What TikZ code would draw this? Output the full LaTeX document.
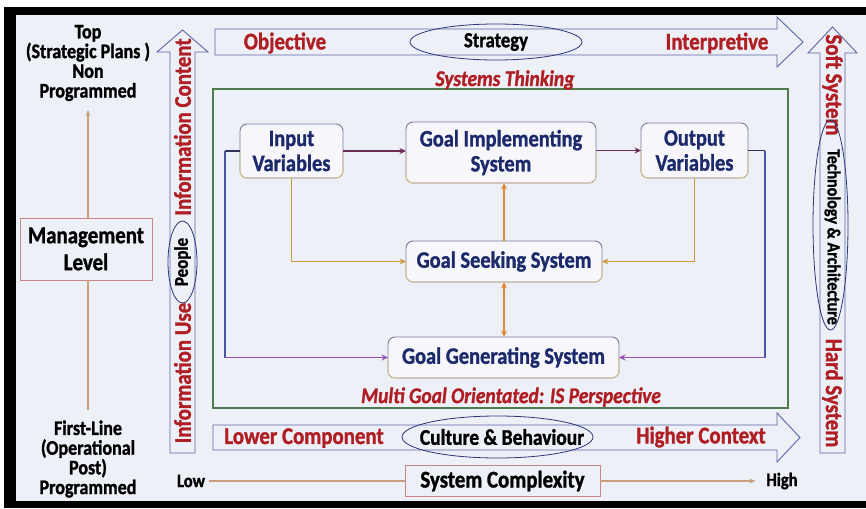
\documentclass[tikz,border=0pt]{standalone}
\usepackage{fontspec}
\setmainfont{Carlito}[FakeStretch=0.87,
  BoldFeatures={FakeBold=1.2}, BoldItalicFeatures={FakeBold=1.2}]
\usetikzlibrary{arrows.meta,shapes.geometric}

\definecolor{panelbg}{HTML}{EDF0F7}
\definecolor{arrowblue}{HTML}{5A66A8}
\definecolor{labelred}{HTML}{B01E24}
\definecolor{boxtext}{HTML}{1C2A6B}
\definecolor{framegreen}{HTML}{4E7A4E}
\definecolor{tanline}{HTML}{C99E7A}
\definecolor{redborder}{HTML}{CC8484}
\definecolor{ovalblue}{HTML}{2E3578}
\definecolor{boxtop}{HTML}{7C7A9E}
\definecolor{boxbottom}{HTML}{DCC68C}
\definecolor{boxfill}{HTML}{F7F7FB}
\definecolor{maroon}{HTML}{6B2C55}
\definecolor{gold}{HTML}{C99A3E}
\definecolor{orangeline}{HTML}{E0893A}
\definecolor{loopdark}{HTML}{2F3358}
\definecolor{loopblue}{HTML}{4B55A6}
\definecolor{looppurple}{HTML}{9352B0}

\begin{document}
\begin{tikzpicture}[x=1pt,y=-1pt,
  every node/.style={inner sep=0pt, outer sep=0pt},
  blockarrow/.style={draw=arrowblue, line width=0.9pt, fill=panelbg, line join=miter},
  redlabel/.style={text=labelred, font=\bfseries\fontsize{24}{27}\selectfont},
  redital/.style={text=labelred, font=\bfseries\itshape\fontsize{22.4}{25}\selectfont},
  blacklabel/.style={text=black, font=\bfseries\fontsize{19.5}{22}\selectfont},
  ovalline/.style={draw=ovalblue, line width=0.8pt},
  sidetext/.style={text=black, font=\bfseries\fontsize{20.7}{19.7}\selectfont, align=center},
  sysbox/.style={draw=boxtop, fill=boxfill, rounded corners=7pt, line width=0.9pt,
    text=boxtext, align=center, font=\bfseries\fontsize{23.5}{25}\selectfont},
  redbox/.style={draw=redborder, line width=0.8pt, fill=panelbg},
  arrowend/.style={-{Stealth[length=6.5pt,width=6pt]}},
  link/.style={line width=1.8pt, line cap=square},
]
\useasboundingbox (0,0) rectangle (866,508);

% frame and panel
\fill[white] (0,0) rectangle (866,508);
\fill[black] (4,7) rectangle (866,508);
\fill[panelbg] (16,15) rectangle (866,501);

% ---- block arrows ----
% left, pointing up
\draw[blockarrow] (170,453) -- (170,52) -- (157,52) -- (182.5,30) -- (208,52)
  -- (195,52) -- (195,453) -- cycle;
% top, pointing right
\draw[blockarrow] (215,29) -- (777,29) -- (777,17) -- (803,42) -- (777,67)
  -- (777,55) -- (215,55) -- cycle;
% right, pointing up
\draw[blockarrow] (820,453) -- (820,53) -- (808,53) -- (832.5,27) -- (857,53)
  -- (845,53) -- (845,453) -- cycle;
% bottom, pointing right
\draw[blockarrow] (213,425) -- (777,425) -- (777,413) -- (800,437.5) -- (777,462)
  -- (777,450) -- (213,450) -- cycle;

% labels on the left arrow
\node[redlabel, rotate=90] (infocontent) at (182.5,127) {Information Content};
\node[blacklabel, rotate=90] (people) at (182.5,262) {People};
\draw[ovalline] (people.center) ellipse [x radius=14.5pt, y radius=41pt];
\node[redlabel, rotate=90] (infouse) at (182.5,373) {Information Use};

% labels on the top arrow
\node[redlabel] (objective) at (285,43) {Objective};
\node[blacklabel, font=\bfseries\fontsize{21.5}{24}\selectfont] (strategy) at (496,42) {Strategy};
\draw[ovalline] (strategy.center) ellipse [x radius=86pt, y radius=18pt];
\node[redlabel] (interpretive) at (717,43) {Interpretive};

% labels on the right arrow
\node[redlabel, rotate=-90] (soft) at (832.5,85) {Soft System};
\node[text=black, font=\bfseries\fontsize{18.4}{20}\selectfont, rotate=-90] (tech) at (832.5,237) {Technology \& Architecture};
\draw[ovalline] (830.5,225) ellipse [x radius=17.5pt, y radius=105pt];
\node[redlabel, rotate=-90] (hard) at (832.5,393) {Hard System};

% labels on the bottom arrow
\node[redlabel] (lower) at (304,438) {Lower Component};
\node[blacklabel, font=\bfseries\fontsize{22.4}{24}\selectfont] (culture) at (502,437) {Culture \& Behaviour};
\draw[ovalline] (497.5,437) ellipse [x radius=95.5pt, y radius=21pt];
\node[redlabel] (higher) at (701,437) {Higher Context};

% ---- management level column ----
\node[sidetext] (toptext) at (88,63) {Top\\(Strategic Plans )\\Non\\Programmed};
\node[sidetext] (firstline) at (88,459) {First-Line\\(Operational\\Post)\\Programmed};
\node[redbox, minimum width=132pt, minimum height=62pt, align=center,
  font=\bfseries\fontsize{24}{27}\selectfont] (mgmt) at (86,249) {Management\\Level};
\coordinate (mgmttop) at (88,110);
\coordinate (mgmtbottom) at (88,410);
\draw[tanline, line width=1.3pt, -{Stealth[length=6pt,width=5pt]}] (mgmt.north -| mgmttop) -- (mgmttop);
\draw[tanline, line width=1.3pt] (mgmt.south -| mgmtbottom) -- (mgmtbottom);

% ---- systems thinking frame ----
\draw[framegreen, line width=1.3pt] (213,89) rectangle (788,408);
\node[redital] (thinking) at (505,80) {Systems Thinking};
\node[redital] (multigoal) at (511,397) {Multi Goal Orientated: IS Perspective};

\node[sysbox, minimum width=103pt, minimum height=54pt] (iv) at (291.5,151) {Input\\Variables};
\node[sysbox, minimum width=190pt, minimum height=61pt] (gi) at (501,152.5) {Goal Implementing\\System};
\node[sysbox, minimum width=107pt, minimum height=55pt] (ov) at (694.5,150.5) {Output\\Variables};
\node[sysbox, minimum width=196pt, minimum height=41pt] (gs) at (504,261.5) {Goal Seeking System};
\node[sysbox, minimum width=231pt, minimum height=41pt] (gg) at (503.5,357.5) {Goal Generating System};

% warm lower edge on each system box
\foreach \n in {iv,gi,ov,gs,gg}{
  \begin{scope}
    \clip ([xshift=-3pt]\n.west) rectangle ([xshift=3pt,yshift=-3pt]\n.south east);
    \draw[boxbottom, line width=0.9pt, rounded corners=7pt] (\n.north west) rectangle (\n.south east);
  \end{scope}
}

% connectors
\draw[link, maroon, arrowend] (iv.east) -- (iv.east -| gi.west);
\draw[link, maroon, arrowend] (gi.east |- ov.west) -- (ov.west);
\draw[link, gold, arrowend] (iv.south) |- (gs.west);
\draw[link, gold, arrowend] (ov.south) |- (gs.east);
\draw[link, orangeline, arrowend] (gs.north) -- (gs.north |- gi.south);
\draw[link, orangeline, {Stealth[length=6.5pt,width=6pt]}-{Stealth[length=6.5pt,width=6pt]}] (gs.south) -- (gs.south |- gg.north);

\coordinate (lt) at (225,151);
\coordinate (lb) at (225,357.5);
\coordinate (rt) at (765,150.5);
\coordinate (rb) at (765,357.5);
\draw[link, loopdark] (iv.west) -- (lt);
\draw[link, loopblue] (lt) -- (lb);
\draw[link, looppurple, arrowend] (lb) -- (gg.west);
\draw[link, loopdark] (ov.east) -- (rt);
\draw[link, loopblue] (rt) -- (rb);
\draw[link, looppurple, arrowend] (rb) -- (gg.east);

% ---- system complexity scale ----
\node[text=black, font=\bfseries\fontsize{19}{21}\selectfont] (low) at (191,481) {Low};
\node[text=black, font=\bfseries\fontsize{19}{21}\selectfont] (high) at (782,481) {High};
\node[redbox, minimum width=195pt, minimum height=31pt,
  font=\bfseries\fontsize{24}{27}\selectfont] (complexity) at (502.5,481) {System Complexity};
\draw[tanline, line width=1.3pt, shorten <=4pt] (low.east) -- (complexity.west);
\draw[tanline, line width=1.3pt, shorten >=11pt, -{Stealth[length=6pt,width=5pt]}] (complexity.east) -- (high.west);

\end{tikzpicture}
\end{document}
